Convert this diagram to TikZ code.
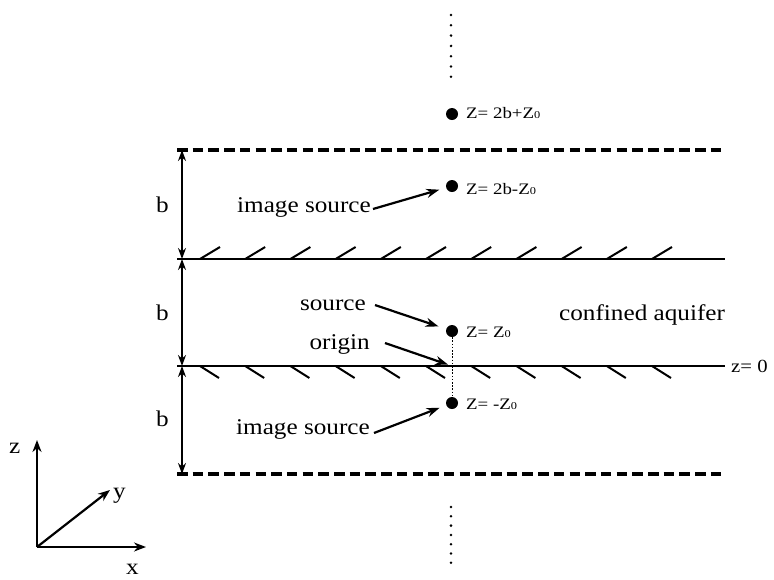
\documentclass[tikz,border=0pt]{standalone}
\usepackage{fontspec}
\setmainfont{Liberation Serif}
\newfontfamily\widefont[FakeStretch=1.12]{Liberation Serif}
\newfontfamily\zfont[FakeStretch=1.18]{Liberation Serif}
\usetikzlibrary{arrows.meta}
\newcommand\zsub{{\fontsize{10.5}{10.5}\selectfont 0}}
\begin{document}
\begin{tikzpicture}[x=1pt,y=-1pt,
  txt/.style={inner sep=0pt, anchor=base east, font=\widefont\fontsize{22.5}{26}\selectfont},
  zlab/.style={inner sep=0pt, anchor=base west, font=\zfont\fontsize{16}{19}\selectfont},
  axlab/.style={inner sep=0pt, anchor=base west, font=\widefont\fontsize{22.5}{26}\selectfont},
  pt/.style={circle, fill=black, inner sep=0pt, minimum size=12pt},
  solidline/.style={line width=2pt},
  dashline/.style={line width=3.8pt, dash pattern=on 10.5pt off 5.2pt},
  hatchline/.style={line width=2pt},
  dim/.style={line width=1.9pt, {Stealth[length=11pt,width=8pt]}-{Stealth[length=11pt,width=8pt]}},
  lab/.style={line width=2.2pt, -{Stealth[length=13pt,width=9pt]}},
  ax/.style={line width=2.2pt, -{Stealth[length=12pt,width=9pt]}},
  dotfill/.style={fill=black}
]
\useasboundingbox (0,0) rectangle (774,579);

% horizontal lines
\draw[dashline] (177,150) -- (725,150);
\draw[solidline] (177,259) -- (725,259);
\draw[solidline] (177,366) -- (725,366);
\draw[dashline] (177,474) -- (725,474);

% hatches
\foreach \i in {0,...,10} {
  \draw[hatchline] ({200+45.2*\i},259) -- ++(20,-12);
  \draw[hatchline] ({200+45.2*\i},366) -- ++(19,12);
}

% dimension arrows
\coordinate (d0) at (182,150);
\coordinate (d1) at (182,259);
\coordinate (d2) at (182,366);
\coordinate (d3) at (182,474);
\draw[dim] (d0) -- (d1);
\draw[dim] (d1) -- (d2);
\draw[dim] (d2) -- (d3);
\node[axlab] (b1) at (156,212) {b};
\node[axlab] (b2) at (156,320) {b};
\node[axlab] (b3) at (156,426) {b};

% dotted continuation marks
\foreach \yy in {15,25.3,35.6,45.9,56.2,66.5,76.8} \fill[dotfill] (451,\yy) circle (1.4pt);
\foreach \yy in {507,516.3,525.6,534.9,544.2,553.5,562.8} \fill[dotfill] (451,\yy) circle (1.4pt);

% sources
\node[pt] (p1) at (452,114) {};
\node[pt] (p2) at (452,186) {};
\node[pt] (p3) at (452,331) {};
\node[pt] (p4) at (452,403) {};
\coordinate (o) at (452,366);
\draw[line width=0.9pt, dash pattern=on 1.6pt off 1.6pt] (p3) -- (p4);

\node[zlab] (z1) at (466,118) {Z= 2b+Z\zsub};
\node[zlab] (z2) at (466,194) {Z= 2b-Z\zsub};
\node[zlab] (z3) at (466,337) {Z= Z\zsub};
\node[zlab] (z4) at (466,409) {Z= -Z\zsub};

% labels with arrows
\node[txt] (t1) at (371,212) {image source};
\node[txt] (t2) at (366,310) {source};
\node[txt] (t3) at (370,349) {origin};
\node[txt] (t4) at (370,434) {image source};
\draw[lab, shorten >=7pt] ([shift={(2,-3)}]t1.base east) -- (p2);
\draw[lab, shorten >=8pt] ([shift={(9,-5)}]t2.base east) -- (p3);
\draw[lab, shorten >=4pt] ([shift={(15,-6)}]t3.base east) -- (o);
\draw[lab, shorten >=7pt] ([shift={(4,-1)}]t4.base east) -- (p4);

\node[txt, anchor=base west] (aq) at (559,320) {confined aquifer};
\node[inner sep=0pt, anchor=base west, font=\widefont\fontsize{18.5}{21}\selectfont] (z0) at (731,372) {z= 0};

% axes
\coordinate (O) at (37,547);
\coordinate (zt) at (37,440);
\coordinate (xt) at (146,547);
\coordinate (yt) at (110,490);
\draw[ax] (O) -- (zt);
\draw[ax] (O) -- (xt);
\draw[ax] (O) -- (yt);
\node[axlab] (zl) at (9,453) {z};
\node[axlab] (yl) at (113,498) {y};
\node[axlab] (xl) at (126,574) {x};
\end{tikzpicture}
\end{document}
